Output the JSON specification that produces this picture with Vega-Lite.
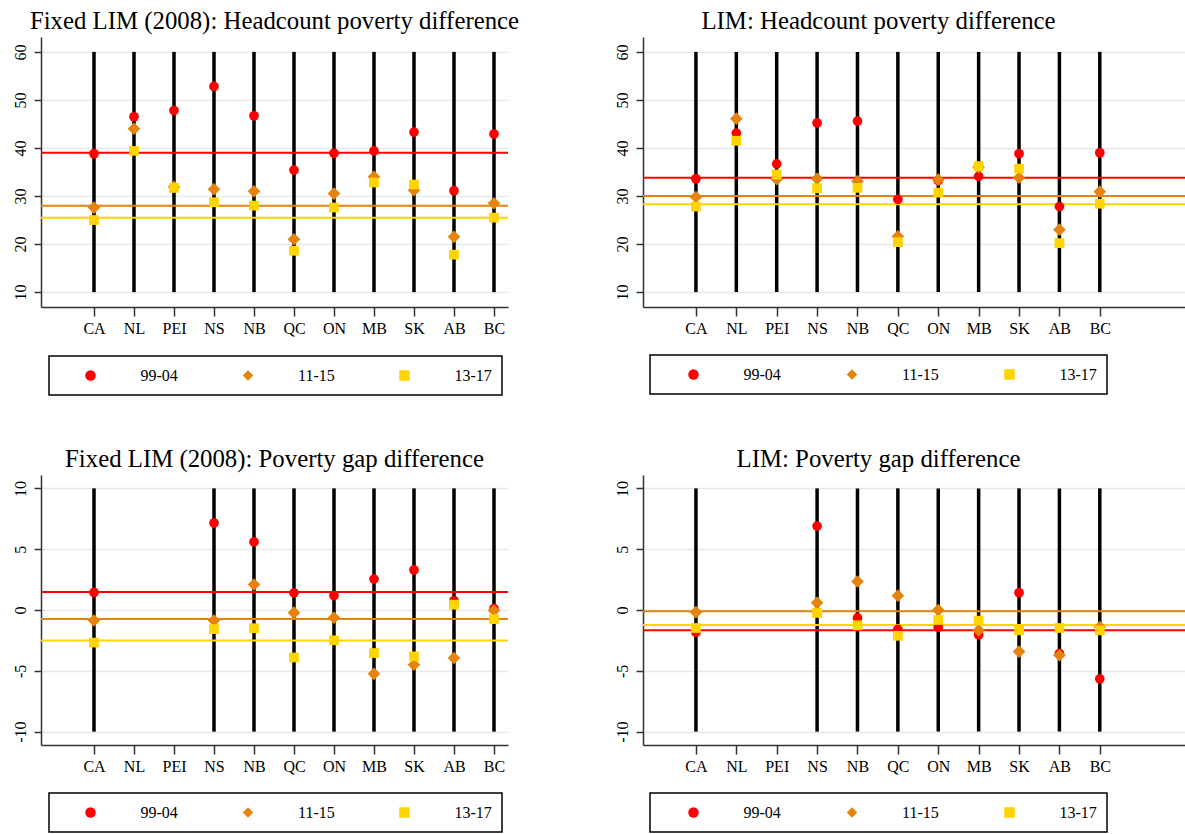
{
  "$schema": "https://vega.github.io/schema/vega-lite/v6.json",
  "padding": {"left": 11, "top": 9, "right": 0, "bottom": 0},
  "background": "white",
  "datasets": {
    "pts": [
      {"panel":"hf","prov":"CA","period":"99-04","value":38.8},
      {"panel":"hf","prov":"NL","period":"99-04","value":46.5},
      {"panel":"hf","prov":"PEI","period":"99-04","value":47.8},
      {"panel":"hf","prov":"NS","period":"99-04","value":52.8},
      {"panel":"hf","prov":"NB","period":"99-04","value":46.7},
      {"panel":"hf","prov":"QC","period":"99-04","value":35.4},
      {"panel":"hf","prov":"ON","period":"99-04","value":38.9},
      {"panel":"hf","prov":"MB","period":"99-04","value":39.4},
      {"panel":"hf","prov":"SK","period":"99-04","value":43.3},
      {"panel":"hf","prov":"AB","period":"99-04","value":31.1},
      {"panel":"hf","prov":"BC","period":"99-04","value":42.9},
      {"panel":"hf","prov":"CA","period":"11-15","value":27.6},
      {"panel":"hf","prov":"NL","period":"11-15","value":44.0},
      {"panel":"hf","prov":"PEI","period":"11-15","value":31.9},
      {"panel":"hf","prov":"NS","period":"11-15","value":31.4},
      {"panel":"hf","prov":"NB","period":"11-15","value":31.0},
      {"panel":"hf","prov":"QC","period":"11-15","value":21.0},
      {"panel":"hf","prov":"ON","period":"11-15","value":30.5},
      {"panel":"hf","prov":"MB","period":"11-15","value":34.0},
      {"panel":"hf","prov":"SK","period":"11-15","value":31.2},
      {"panel":"hf","prov":"AB","period":"11-15","value":21.5},
      {"panel":"hf","prov":"BC","period":"11-15","value":28.5},
      {"panel":"hf","prov":"CA","period":"13-17","value":25.0},
      {"panel":"hf","prov":"NL","period":"13-17","value":39.4},
      {"panel":"hf","prov":"PEI","period":"13-17","value":31.7},
      {"panel":"hf","prov":"NS","period":"13-17","value":28.7},
      {"panel":"hf","prov":"NB","period":"13-17","value":28.0},
      {"panel":"hf","prov":"QC","period":"13-17","value":18.6},
      {"panel":"hf","prov":"ON","period":"13-17","value":27.6},
      {"panel":"hf","prov":"MB","period":"13-17","value":32.8},
      {"panel":"hf","prov":"SK","period":"13-17","value":32.4},
      {"panel":"hf","prov":"AB","period":"13-17","value":17.8},
      {"panel":"hf","prov":"BC","period":"13-17","value":25.5},

      {"panel":"hl","prov":"CA","period":"99-04","value":33.6},
      {"panel":"hl","prov":"NL","period":"99-04","value":43.1},
      {"panel":"hl","prov":"PEI","period":"99-04","value":36.7},
      {"panel":"hl","prov":"NS","period":"99-04","value":45.2},
      {"panel":"hl","prov":"NB","period":"99-04","value":45.6},
      {"panel":"hl","prov":"QC","period":"99-04","value":29.3},
      {"panel":"hl","prov":"ON","period":"99-04","value":33.2},
      {"panel":"hl","prov":"MB","period":"99-04","value":34.1},
      {"panel":"hl","prov":"SK","period":"99-04","value":38.8},
      {"panel":"hl","prov":"AB","period":"99-04","value":27.8},
      {"panel":"hl","prov":"BC","period":"99-04","value":39.0},
      {"panel":"hl","prov":"CA","period":"11-15","value":29.8},
      {"panel":"hl","prov":"NL","period":"11-15","value":46.1},
      {"panel":"hl","prov":"PEI","period":"11-15","value":33.5},
      {"panel":"hl","prov":"NS","period":"11-15","value":33.6},
      {"panel":"hl","prov":"NB","period":"11-15","value":33.1},
      {"panel":"hl","prov":"QC","period":"11-15","value":21.6},
      {"panel":"hl","prov":"ON","period":"11-15","value":33.4},
      {"panel":"hl","prov":"MB","period":"11-15","value":36.0},
      {"panel":"hl","prov":"SK","period":"11-15","value":33.8},
      {"panel":"hl","prov":"AB","period":"11-15","value":23.0},
      {"panel":"hl","prov":"BC","period":"11-15","value":30.9},
      {"panel":"hl","prov":"CA","period":"13-17","value":27.8},
      {"panel":"hl","prov":"NL","period":"13-17","value":41.5},
      {"panel":"hl","prov":"PEI","period":"13-17","value":34.5},
      {"panel":"hl","prov":"NS","period":"13-17","value":31.6},
      {"panel":"hl","prov":"NB","period":"13-17","value":31.7},
      {"panel":"hl","prov":"QC","period":"13-17","value":20.4},
      {"panel":"hl","prov":"ON","period":"13-17","value":30.7},
      {"panel":"hl","prov":"MB","period":"13-17","value":36.2},
      {"panel":"hl","prov":"SK","period":"13-17","value":35.7},
      {"panel":"hl","prov":"AB","period":"13-17","value":20.2},
      {"panel":"hl","prov":"BC","period":"13-17","value":28.4},

      {"panel":"gf","prov":"CA","period":"99-04","value":1.44},
      {"panel":"gf","prov":"NS","period":"99-04","value":7.15},
      {"panel":"gf","prov":"NB","period":"99-04","value":5.6},
      {"panel":"gf","prov":"QC","period":"99-04","value":1.41},
      {"panel":"gf","prov":"ON","period":"99-04","value":1.19},
      {"panel":"gf","prov":"MB","period":"99-04","value":2.54},
      {"panel":"gf","prov":"SK","period":"99-04","value":3.29},
      {"panel":"gf","prov":"AB","period":"99-04","value":0.77},
      {"panel":"gf","prov":"BC","period":"99-04","value":0.11},
      {"panel":"gf","prov":"CA","period":"11-15","value":-0.86},
      {"panel":"gf","prov":"NS","period":"11-15","value":-0.86},
      {"panel":"gf","prov":"NB","period":"11-15","value":2.1},
      {"panel":"gf","prov":"QC","period":"11-15","value":-0.22},
      {"panel":"gf","prov":"ON","period":"11-15","value":-0.64},
      {"panel":"gf","prov":"MB","period":"11-15","value":-5.25},
      {"panel":"gf","prov":"SK","period":"11-15","value":-4.5},
      {"panel":"gf","prov":"AB","period":"11-15","value":-3.95},
      {"panel":"gf","prov":"BC","period":"11-15","value":-0.05},
      {"panel":"gf","prov":"CA","period":"13-17","value":-2.68},
      {"panel":"gf","prov":"NS","period":"13-17","value":-1.57},
      {"panel":"gf","prov":"NB","period":"13-17","value":-1.5},
      {"panel":"gf","prov":"QC","period":"13-17","value":-3.9},
      {"panel":"gf","prov":"ON","period":"13-17","value":-2.49},
      {"panel":"gf","prov":"MB","period":"13-17","value":-3.54},
      {"panel":"gf","prov":"SK","period":"13-17","value":-3.81},
      {"panel":"gf","prov":"AB","period":"13-17","value":0.44},
      {"panel":"gf","prov":"BC","period":"13-17","value":-0.75},

      {"panel":"gl","prov":"CA","period":"99-04","value":-1.84},
      {"panel":"gl","prov":"NS","period":"99-04","value":6.9},
      {"panel":"gl","prov":"NB","period":"99-04","value":-0.65},
      {"panel":"gl","prov":"QC","period":"99-04","value":-1.59},
      {"panel":"gl","prov":"ON","period":"99-04","value":-1.42},
      {"panel":"gl","prov":"MB","period":"99-04","value":-2.03},
      {"panel":"gl","prov":"SK","period":"99-04","value":1.42},
      {"panel":"gl","prov":"AB","period":"99-04","value":-3.58},
      {"panel":"gl","prov":"BC","period":"99-04","value":-5.66},
      {"panel":"gl","prov":"CA","period":"11-15","value":-0.18},
      {"panel":"gl","prov":"NS","period":"11-15","value":0.59},
      {"panel":"gl","prov":"NB","period":"11-15","value":2.34},
      {"panel":"gl","prov":"QC","period":"11-15","value":1.18},
      {"panel":"gl","prov":"ON","period":"11-15","value":-0.01},
      {"panel":"gl","prov":"MB","period":"11-15","value":-1.67},
      {"panel":"gl","prov":"SK","period":"11-15","value":-3.42},
      {"panel":"gl","prov":"AB","period":"11-15","value":-3.72},
      {"panel":"gl","prov":"BC","period":"11-15","value":-1.4},
      {"panel":"gl","prov":"CA","period":"13-17","value":-1.48},
      {"panel":"gl","prov":"NS","period":"13-17","value":-0.24},
      {"panel":"gl","prov":"NB","period":"13-17","value":-1.26},
      {"panel":"gl","prov":"QC","period":"13-17","value":-2.12},
      {"panel":"gl","prov":"ON","period":"13-17","value":-0.82},
      {"panel":"gl","prov":"MB","period":"13-17","value":-0.87},
      {"panel":"gl","prov":"SK","period":"13-17","value":-1.67},
      {"panel":"gl","prov":"AB","period":"13-17","value":-1.48},
      {"panel":"gl","prov":"BC","period":"13-17","value":-1.67}
    ],
    "means": [
      {"panel":"hf","period":"99-04","mean":39.0},
      {"panel":"hf","period":"11-15","mean":28.0},
      {"panel":"hf","period":"13-17","mean":25.5},
      {"panel":"hl","period":"99-04","mean":33.8},
      {"panel":"hl","period":"11-15","mean":30.0},
      {"panel":"hl","period":"13-17","mean":28.3},
      {"panel":"gf","period":"99-04","mean":1.49},
      {"panel":"gf","period":"11-15","mean":-0.75},
      {"panel":"gf","period":"13-17","mean":-2.51},
      {"panel":"gl","period":"99-04","mean":-1.67},
      {"panel":"gl","period":"11-15","mean":-0.1},
      {"panel":"gl","period":"13-17","mean":-1.23}
    ]
  },
  "concat": [
    {
      "width": 467, "height": 270,
      "title": {"text": "Fixed LIM (2008): Headcount poverty difference"},
      "layer": [
        {
          "data": {"name": "pts"},
          "transform": [{"filter": "datum.panel === 'hf' && datum.period === '99-04'"}],
          "mark": {"type": "rule", "color": "black", "strokeWidth": 3.5},
          "encoding": {
            "x": {"field": "prov", "type": "nominal", "scale": {"type": "point", "domain": ["CA","NL","PEI","NS","NB","QC","ON","MB","SK","AB","BC"], "padding": 0.8375, "align": 0.791}, "axis": {"title": null}},
            "y": {"datum": 10, "type": "quantitative", "scale": {"domain": [6.9, 63.1], "nice": false, "zero": false}, "axis": {"title": null, "values": [10,20,30,40,50,60]}},
            "y2": {"datum": 60}
          }
        },
        {"data": {"name": "means"}, "transform": [{"filter": "datum.panel === 'hf' && datum.period === '99-04'"}], "mark": {"type": "rule", "strokeWidth": 2, "color": "#FF0000"}, "encoding": {"y": {"field": "mean", "type": "quantitative"}}},
        {"data": {"name": "means"}, "transform": [{"filter": "datum.panel === 'hf' && datum.period === '11-15'"}], "mark": {"type": "rule", "strokeWidth": 2, "color": "#E5830E"}, "encoding": {"y": {"field": "mean", "type": "quantitative"}}},
        {"data": {"name": "means"}, "transform": [{"filter": "datum.panel === 'hf' && datum.period === '13-17'"}], "mark": {"type": "rule", "strokeWidth": 2, "color": "#FFD400"}, "encoding": {"y": {"field": "mean", "type": "quantitative"}}},
        {
          "data": {"name": "pts"},
          "transform": [{"filter": "datum.panel === 'hf' && datum.period === '99-04'"}],
          "mark": {"type": "point", "filled": true, "opacity": 1, "size": 95},
          "encoding": {
            "x": {"field": "prov", "type": "nominal"},
            "y": {"field": "value", "type": "quantitative"},
            "color": {"field": "period", "type": "nominal", "scale": {"domain": ["99-04","11-15","13-17"], "range": ["#FF0000","#E5830E","#FFD400"]},
              "legend": {"title": " ", "orient": "none", "legendX": 8, "legendY": 319, "direction": "horizontal", "columns": 3, "columnPadding": 61.5, "titlePadding": 23.5}},
            "shape": {"field": "period", "type": "nominal", "scale": {"domain": ["99-04","11-15","13-17"], "range": ["circle","diamond","square"]},
              "legend": {"title": " ", "orient": "none", "legendX": 8, "legendY": 319, "direction": "horizontal", "columns": 3, "columnPadding": 61.5, "titlePadding": 23.5}}
          }
        },
        {
          "data": {"name": "pts"},
          "transform": [{"filter": "datum.panel === 'hf' && datum.period === '11-15'"}],
          "mark": {"type": "point", "filled": true, "opacity": 1, "size": 160},
          "encoding": {
            "x": {"field": "prov", "type": "nominal"},
            "y": {"field": "value", "type": "quantitative"},
            "color": {"field": "period", "type": "nominal"},
            "shape": {"field": "period", "type": "nominal"}
          }
        },
        {
          "data": {"name": "pts"},
          "transform": [{"filter": "datum.panel === 'hf' && datum.period === '13-17'"}],
          "mark": {"type": "point", "filled": true, "opacity": 1, "size": 95},
          "encoding": {
            "x": {"field": "prov", "type": "nominal"},
            "y": {"field": "value", "type": "quantitative"},
            "color": {"field": "period", "type": "nominal"},
            "shape": {"field": "period", "type": "nominal"}
          }
        }
      ]
    },
    {
      "width": 543, "height": 270,
      "title": {"text": "LIM: Headcount poverty difference", "dx": -36},
      "layer": [
        {
          "data": {"name": "pts"},
          "transform": [{"filter": "datum.panel === 'hl' && datum.period === '99-04'"}],
          "mark": {"type": "rule", "color": "black", "strokeWidth": 3.5},
          "encoding": {
            "x": {"field": "prov", "type": "nominal", "scale": {"type": "point", "domain": ["CA","NL","PEI","NS","NB","QC","ON","MB","SK","AB","BC"," ","  "], "padding": 0.7225, "align": 0.907}, "axis": {"title": null, "values": ["CA","NL","PEI","NS","NB","QC","ON","MB","SK","AB","BC"]}},
            "y": {"datum": 10, "type": "quantitative", "scale": {"domain": [6.9, 63.1], "nice": false, "zero": false}, "axis": {"title": null, "values": [10,20,30,40,50,60]}},
            "y2": {"datum": 60}
          }
        },
        {"data": {"name": "means"}, "transform": [{"filter": "datum.panel === 'hl' && datum.period === '99-04'"}], "mark": {"type": "rule", "strokeWidth": 2, "color": "#FF0000"}, "encoding": {"y": {"field": "mean", "type": "quantitative"}}},
        {"data": {"name": "means"}, "transform": [{"filter": "datum.panel === 'hl' && datum.period === '11-15'"}], "mark": {"type": "rule", "strokeWidth": 2, "color": "#E5830E"}, "encoding": {"y": {"field": "mean", "type": "quantitative"}}},
        {"data": {"name": "means"}, "transform": [{"filter": "datum.panel === 'hl' && datum.period === '13-17'"}], "mark": {"type": "rule", "strokeWidth": 2, "color": "#FFD400"}, "encoding": {"y": {"field": "mean", "type": "quantitative"}}},
        {
          "data": {"name": "pts"},
          "transform": [{"filter": "datum.panel === 'hl' && datum.period === '99-04'"}],
          "mark": {"type": "point", "filled": true, "opacity": 1, "size": 95},
          "encoding": {
            "x": {"field": "prov", "type": "nominal"},
            "y": {"field": "value", "type": "quantitative"},
            "color": {"field": "period", "type": "nominal", "scale": {"domain": ["99-04","11-15","13-17"], "range": ["#FF0000","#E5830E","#FFD400"]},
              "legend": {"title": " ", "orient": "none", "legendX": 7, "legendY": 318, "direction": "horizontal", "columns": 3, "columnPadding": 62.5, "titlePadding": 25.5}},
            "shape": {"field": "period", "type": "nominal", "scale": {"domain": ["99-04","11-15","13-17"], "range": ["circle","diamond","square"]},
              "legend": {"title": " ", "orient": "none", "legendX": 7, "legendY": 318, "direction": "horizontal", "columns": 3, "columnPadding": 62.5, "titlePadding": 25.5}}
          }
        },
        {
          "data": {"name": "pts"},
          "transform": [{"filter": "datum.panel === 'hl' && datum.period === '11-15'"}],
          "mark": {"type": "point", "filled": true, "opacity": 1, "size": 160},
          "encoding": {
            "x": {"field": "prov", "type": "nominal"},
            "y": {"field": "value", "type": "quantitative"},
            "color": {"field": "period", "type": "nominal"},
            "shape": {"field": "period", "type": "nominal"}
          }
        },
        {
          "data": {"name": "pts"},
          "transform": [{"filter": "datum.panel === 'hl' && datum.period === '13-17'"}],
          "mark": {"type": "point", "filled": true, "opacity": 1, "size": 95},
          "encoding": {
            "x": {"field": "prov", "type": "nominal"},
            "y": {"field": "value", "type": "quantitative"},
            "color": {"field": "period", "type": "nominal"},
            "shape": {"field": "period", "type": "nominal"}
          }
        }
      ]
    },
    {
      "width": 467, "height": 270,
      "title": {"text": "Fixed LIM (2008): Poverty gap difference"},
      "layer": [
        {
          "data": {"name": "pts"},
          "transform": [{"filter": "datum.panel === 'gf' && datum.period === '99-04'"}],
          "mark": {"type": "rule", "color": "black", "strokeWidth": 3.5},
          "encoding": {
            "x": {"field": "prov", "type": "nominal", "scale": {"type": "point", "domain": ["CA","NL","PEI","NS","NB","QC","ON","MB","SK","AB","BC"], "padding": 0.8375, "align": 0.791}, "axis": {"title": null}},
            "y": {"datum": -10, "type": "quantitative", "scale": {"domain": [-11.1, 11.1], "nice": false, "zero": false}, "axis": {"title": null, "values": [-10,-5,0,5,10], "labelExpr": "'' + datum.value"}},
            "y2": {"datum": 10}
          }
        },
        {"data": {"name": "means"}, "transform": [{"filter": "datum.panel === 'gf' && datum.period === '99-04'"}], "mark": {"type": "rule", "strokeWidth": 2, "color": "#FF0000"}, "encoding": {"y": {"field": "mean", "type": "quantitative"}}},
        {"data": {"name": "means"}, "transform": [{"filter": "datum.panel === 'gf' && datum.period === '11-15'"}], "mark": {"type": "rule", "strokeWidth": 2, "color": "#E5830E"}, "encoding": {"y": {"field": "mean", "type": "quantitative"}}},
        {"data": {"name": "means"}, "transform": [{"filter": "datum.panel === 'gf' && datum.period === '13-17'"}], "mark": {"type": "rule", "strokeWidth": 2, "color": "#FFD400"}, "encoding": {"y": {"field": "mean", "type": "quantitative"}}},
        {
          "data": {"name": "pts"},
          "transform": [{"filter": "datum.panel === 'gf' && datum.period === '99-04'"}],
          "mark": {"type": "point", "filled": true, "opacity": 1, "size": 95},
          "encoding": {
            "x": {"field": "prov", "type": "nominal"},
            "y": {"field": "value", "type": "quantitative"},
            "color": {"field": "period", "type": "nominal", "scale": {"domain": ["99-04","11-15","13-17"], "range": ["#FF0000","#E5830E","#FFD400"]},
              "legend": {"title": " ", "orient": "none", "legendX": 8, "legendY": 318, "direction": "horizontal", "columns": 3, "columnPadding": 61.5, "titlePadding": 23.5}},
            "shape": {"field": "period", "type": "nominal", "scale": {"domain": ["99-04","11-15","13-17"], "range": ["circle","diamond","square"]},
              "legend": {"title": " ", "orient": "none", "legendX": 8, "legendY": 318, "direction": "horizontal", "columns": 3, "columnPadding": 61.5, "titlePadding": 23.5}}
          }
        },
        {
          "data": {"name": "pts"},
          "transform": [{"filter": "datum.panel === 'gf' && datum.period === '11-15'"}],
          "mark": {"type": "point", "filled": true, "opacity": 1, "size": 160},
          "encoding": {
            "x": {"field": "prov", "type": "nominal"},
            "y": {"field": "value", "type": "quantitative"},
            "color": {"field": "period", "type": "nominal"},
            "shape": {"field": "period", "type": "nominal"}
          }
        },
        {
          "data": {"name": "pts"},
          "transform": [{"filter": "datum.panel === 'gf' && datum.period === '13-17'"}],
          "mark": {"type": "point", "filled": true, "opacity": 1, "size": 95},
          "encoding": {
            "x": {"field": "prov", "type": "nominal"},
            "y": {"field": "value", "type": "quantitative"},
            "color": {"field": "period", "type": "nominal"},
            "shape": {"field": "period", "type": "nominal"}
          }
        }
      ]
    },
    {
      "width": 543, "height": 270,
      "title": {"text": "LIM: Poverty gap difference", "dx": -36},
      "layer": [
        {
          "data": {"name": "pts"},
          "transform": [{"filter": "datum.panel === 'gl' && datum.period === '99-04'"}],
          "mark": {"type": "rule", "color": "black", "strokeWidth": 3.5},
          "encoding": {
            "x": {"field": "prov", "type": "nominal", "scale": {"type": "point", "domain": ["CA","NL","PEI","NS","NB","QC","ON","MB","SK","AB","BC"," ","  "], "padding": 0.7225, "align": 0.907}, "axis": {"title": null, "values": ["CA","NL","PEI","NS","NB","QC","ON","MB","SK","AB","BC"]}},
            "y": {"datum": -10, "type": "quantitative", "scale": {"domain": [-11.1, 11.1], "nice": false, "zero": false}, "axis": {"title": null, "values": [-10,-5,0,5,10], "labelExpr": "'' + datum.value"}},
            "y2": {"datum": 10}
          }
        },
        {"data": {"name": "means"}, "transform": [{"filter": "datum.panel === 'gl' && datum.period === '99-04'"}], "mark": {"type": "rule", "strokeWidth": 2, "color": "#FF0000"}, "encoding": {"y": {"field": "mean", "type": "quantitative"}}},
        {"data": {"name": "means"}, "transform": [{"filter": "datum.panel === 'gl' && datum.period === '11-15'"}], "mark": {"type": "rule", "strokeWidth": 2, "color": "#E5830E"}, "encoding": {"y": {"field": "mean", "type": "quantitative"}}},
        {"data": {"name": "means"}, "transform": [{"filter": "datum.panel === 'gl' && datum.period === '13-17'"}], "mark": {"type": "rule", "strokeWidth": 2, "color": "#FFD400"}, "encoding": {"y": {"field": "mean", "type": "quantitative"}}},
        {
          "data": {"name": "pts"},
          "transform": [{"filter": "datum.panel === 'gl' && datum.period === '99-04'"}],
          "mark": {"type": "point", "filled": true, "opacity": 1, "size": 95},
          "encoding": {
            "x": {"field": "prov", "type": "nominal"},
            "y": {"field": "value", "type": "quantitative"},
            "color": {"field": "period", "type": "nominal", "scale": {"domain": ["99-04","11-15","13-17"], "range": ["#FF0000","#E5830E","#FFD400"]},
              "legend": {"title": " ", "orient": "none", "legendX": 7, "legendY": 318, "direction": "horizontal", "columns": 3, "columnPadding": 62.5, "titlePadding": 25.5}},
            "shape": {"field": "period", "type": "nominal", "scale": {"domain": ["99-04","11-15","13-17"], "range": ["circle","diamond","square"]},
              "legend": {"title": " ", "orient": "none", "legendX": 7, "legendY": 318, "direction": "horizontal", "columns": 3, "columnPadding": 62.5, "titlePadding": 25.5}}
          }
        },
        {
          "data": {"name": "pts"},
          "transform": [{"filter": "datum.panel === 'gl' && datum.period === '11-15'"}],
          "mark": {"type": "point", "filled": true, "opacity": 1, "size": 160},
          "encoding": {
            "x": {"field": "prov", "type": "nominal"},
            "y": {"field": "value", "type": "quantitative"},
            "color": {"field": "period", "type": "nominal"},
            "shape": {"field": "period", "type": "nominal"}
          }
        },
        {
          "data": {"name": "pts"},
          "transform": [{"filter": "datum.panel === 'gl' && datum.period === '13-17'"}],
          "mark": {"type": "point", "filled": true, "opacity": 1, "size": 95},
          "encoding": {
            "x": {"field": "prov", "type": "nominal"},
            "y": {"field": "value", "type": "quantitative"},
            "color": {"field": "period", "type": "nominal"},
            "shape": {"field": "period", "type": "nominal"}
          }
        }
      ]
    }
  ],
  "columns": 2,
  "spacing": {"row": 168, "column": 135},
  "bounds": "flush",
  "resolve": {
    "scale": {"color": "independent", "shape": "independent", "x": "independent", "y": "independent"},
    "legend": {"color": "independent", "shape": "independent"}
  },
  "config": {
    "view": {"stroke": null},
    "font": "Liberation Serif",
    "axis": {
      "labelFont": "Liberation Serif", "labelFontSize": 16, "labelColor": "#000",
      "domainColor": "#333", "domainWidth": 1.5, "tickColor": "#333", "tickWidth": 1.5,
      "gridColor": "#E8E8E8", "gridWidth": 1.5
    },
    "axisX": {"grid": false, "labelPadding": 4, "tickSize": 9, "labelAngle": 0},
    "axisY": {"grid": true, "tickSize": 7, "labelPadding": 6, "labelAngle": 270, "labelAlign": "center", "labelBaseline": "bottom"},
    "title": {"font": "Liberation Serif", "fontSize": 24.8, "fontWeight": "normal", "color": "#000", "baseline": "alphabetic", "offset": 3, "anchor": "middle"},
    "legend": {
      "labelFont": "Liberation Serif", "labelFontSize": 16, "labelColor": "#000",
      "labelOffset": 42, "symbolStrokeWidth": 0, "symbolSize": 110, "clipHeight": 19,
      "padding": 10, "strokeColor": "#000", "strokeWidth": 1.5,
      "titleOrient": "left", "titleFontSize": 1, "titleColor": "#fff",
      "rowPadding": 0
    }
  }
}
